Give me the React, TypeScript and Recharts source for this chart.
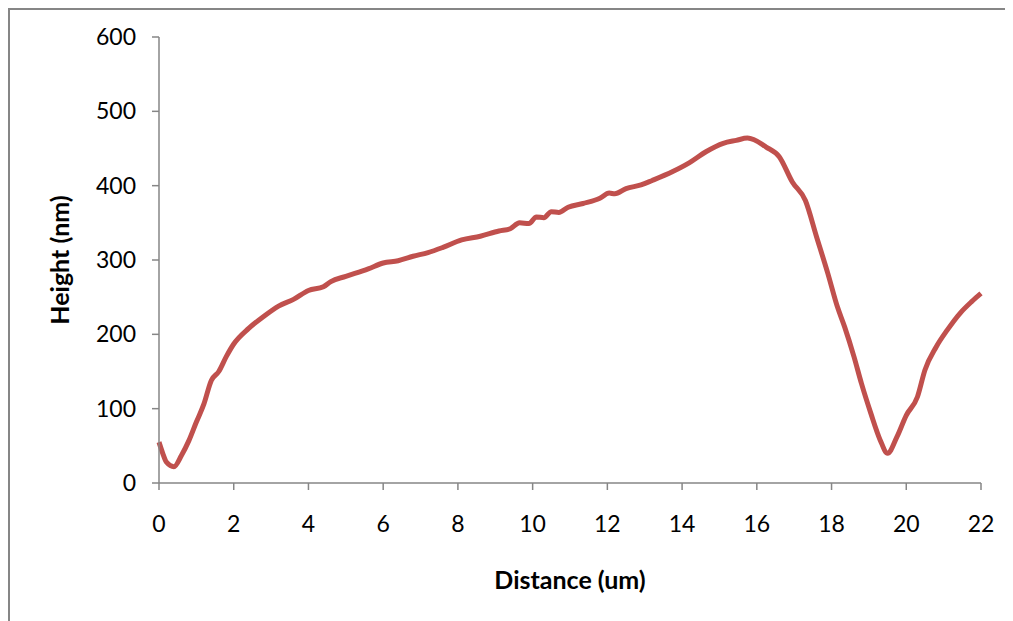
import { LineChart, Line, XAxis, YAxis, Label } from 'recharts';

const distances = [
  0, 0.1, 0.2, 0.4, 0.6, 0.8, 1.0, 1.2, 1.4, 1.6, 1.8, 2.0, 2.4, 2.8, 3.2, 3.6, 4.0, 4.4, 4.6, 5.0,
  5.6, 6.0, 6.4, 6.8, 7.2, 7.6, 8.1, 8.6, 9.1, 9.4, 9.65, 9.9, 10.1, 10.3, 10.5, 10.7, 10.95, 11.35,
  11.8, 12.05, 12.2, 12.5, 12.9, 13.2, 13.75, 14.2, 14.65, 15.1, 15.45, 15.75, 16.25, 16.6, 16.95,
  17.3, 17.6, 17.9, 18.15, 18.35, 18.6, 18.8, 19.05, 19.3, 19.5, 19.75, 20.0, 20.3, 20.5, 20.8, 21.1,
  21.45, 21.75, 22.0,
];

const heights = [
  55, 40, 28, 22, 37, 57, 82, 106, 138, 150, 170, 187, 208, 224, 238, 247, 259, 264, 271, 278,
  288, 296, 299, 305, 310, 317, 327, 332, 339, 342, 350, 349, 358, 357, 365, 364, 371, 376,
  383, 390, 389, 396, 401, 407, 419, 431, 446, 457, 461, 464, 452, 439, 405,
  380, 331, 282, 238, 210, 170, 134, 94, 58, 40, 62, 91, 116, 152, 183, 206,
  229, 244, 255,
];

const xTicks = [0, 2, 4, 6, 8, 10, 12, 14, 16, 18, 20, 22];
const yTicks = [0, 100, 200, 300, 400, 500, 600];

const data = distances.map((d, i) => ({ d, h: heights[i] }));

const font = 'Lato, "Open Sans", sans-serif';
const axisColor = '#868686';

// hide any scrollbars so the frame runs to the page edge
const pageCss =
  'html, body { overflow: hidden; scrollbar-width: none; } ::-webkit-scrollbar { display: none; }';

export default function App() {
  return (
    <>
      <style>{pageCss}</style>
      <div
        style={{
          width: 1100,
          height: 700,
          borderLeft: `2px solid ${axisColor}`,
          borderTop: `2px solid ${axisColor}`,
          boxSizing: 'border-box',
          background: '#fff',
          fontFamily: font,
        }}
      >
        <LineChart
          width={1003}
          height={603}
          data={data}
          margin={{ top: 27, right: 32, left: 0, bottom: 0 }}
          accessibilityLayer={false}
          style={{ outline: 'none' }}
        >
          <XAxis
            dataKey="d"
            type="number"
            domain={[0, 22]}
            ticks={xTicks}
            height={130}
            stroke={axisColor}
            strokeWidth={1.5}
            tickSize={7}
            tickMargin={26}
            tick={{ fill: '#000', fontSize: 23, fontFamily: font }}
          >
            <Label
              value="Distance (um)"
              position="insideTop"
              offset={88}
              style={{ fontSize: 25, fontWeight: 700, fill: '#000', fontFamily: font }}
            />
          </XAxis>
          <YAxis
            type="number"
            domain={[0, 600]}
            ticks={yTicks}
            width={149}
            stroke={axisColor}
            strokeWidth={1.5}
            tickSize={7}
            tickMargin={16}
            tick={{ fill: '#000', fontSize: 23, fontFamily: font }}
          >
            <Label
              value="Height (nm)"
              angle={-90}
              position="insideLeft"
              offset={50}
              style={{ fontSize: 25, fontWeight: 700, fill: '#000', fontFamily: font, textAnchor: 'middle' }}
            />
          </YAxis>
          <Line
            type="monotone"
            dataKey="h"
            stroke="#C0504D"
            strokeWidth={5}
            dot={false}
            isAnimationActive={false}
          />
        </LineChart>
      </div>
    </>
  );
}
